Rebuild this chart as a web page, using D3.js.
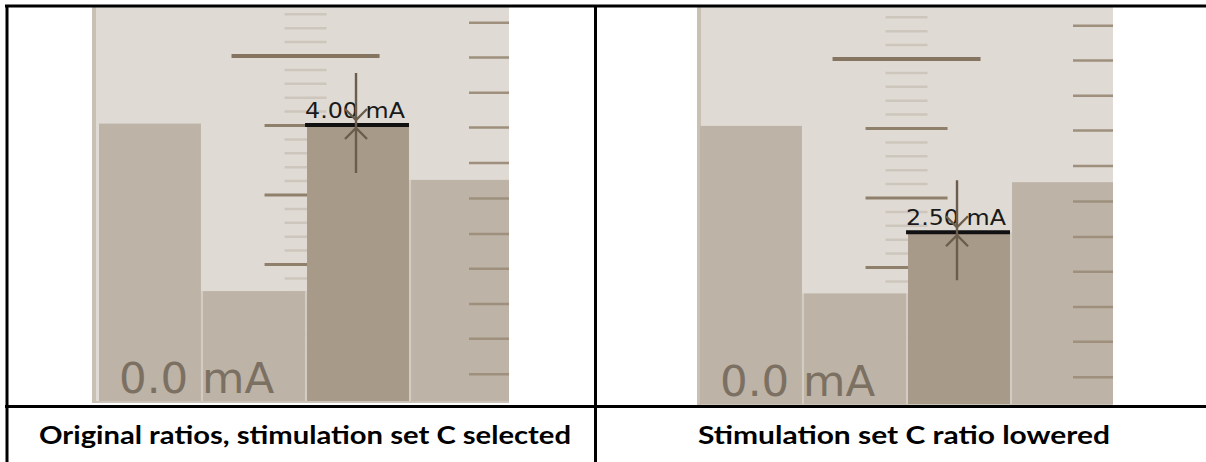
<!DOCTYPE html>
<html>
<head>
<meta charset="utf-8">
<script src="https://cdn.jsdelivr.net/npm/d3@7"></script>
<style>
  html, body { margin: 0; padding: 0; background: #ffffff; }
  svg { display: block; }
</style>
</head>
<body>
<svg id="chart" width="1206" height="462"></svg>
<script>
// ---- data ----
const categories = ['A', 'B', 'C', 'D'];
const originalValues = [4.02, 1.61, 4.00, 3.21];
const loweredValues = [4.03, 1.62, 2.50, 3.22];
const selectedCategory = 'C';
const selectedLabels = ['4.00 mA', '2.50 mA'];
const baseLabel = '0.0 mA';
const captions = ['Original ratios, stimulation set C selected', 'Stimulation set C ratio lowered'];
const minorTickValues = [0.2, 0.4, 0.6, 0.8, 1.2, 1.4, 1.6, 1.8, 2.2, 2.4, 2.6, 2.8,
                         3.2, 3.4, 3.6, 3.8, 4.2, 4.4, 4.6, 4.8, 5.2, 5.4, 5.6];
const mediumTickValues = [1, 2, 3, 4];
const majorTickValues = [5];
const sideTickValues = [0.42, 0.93, 1.43, 1.94, 2.44, 2.95, 3.46, 3.97, 4.47, 4.98, 5.48];

// ---- layout ----
const svg = d3.select('#chart');
const pxPerUnit = 69.5;
const yMax = 5.75;

const panels = [
  { id: 'p0', x0: 92, x1: 509, y0: 7, y1: 403, barStart: 99, values: originalValues,
    label: selectedLabels[0], caption: captions[0], capX0: 39, capW: 532 },
  { id: 'p1', x0: 697, x1: 1113, y0: 7, y1: 406, barStart: 700, values: loweredValues,
    label: selectedLabels[1], caption: captions[1], capX0: 698, capW: 412 }
];

const C = {
  bg: '#dfdad4', stripe: '#c9c0b4', bar: '#bdb3a6', barSel: '#a89a89', gap: '#d3ccc2',
  bottom: '#cbc3b7', minor: '#cdc6bc', medium: '#8f806c', major: '#857460', side: '#9e907c',
  arrow: '#6b5d4c', base: '#7b7061', label: '#1a1a1a'
};

const defs = svg.append('defs');

panels.forEach(p => {
  defs.append('clipPath').attr('id', 'clip-' + p.id)
    .append('rect').attr('x', p.x0).attr('y', p.y0).attr('width', p.x1 - p.x0).attr('height', p.y1 - p.y0);

  const g = svg.append('g').attr('clip-path', `url(#clip-${p.id})`);

  const x = d3.scaleBand().domain(categories)
    .range([p.barStart, p.barStart + 414]).paddingInner(0.02).paddingOuter(0);
  const y = d3.scaleLinear().domain([0, yMax]).range([p.y1, p.y1 - yMax * pxPerUnit]);

  // background
  g.append('rect').attr('x', p.x0).attr('y', p.y0).attr('width', p.x1 - p.x0).attr('height', p.y1 - p.y0)
    .attr('fill', C.bg);
  g.append('rect').attr('x', p.x0).attr('y', p.y0).attr('width', 4).attr('height', p.y1 - p.y0)
    .attr('fill', C.stripe);

  // centre scale (behind bars)
  const cx = x(selectedCategory) - 1.5;
  const centreAxis = (vals, len, col, w) => {
    const a = g.append('g').attr('transform', `translate(${cx - len / 2},0)`)
      .call(d3.axisRight(y).tickValues(vals).tickSize(len).tickFormat(''));
    a.select('.domain').remove();
    a.selectAll('line').attr('stroke', col).attr('stroke-width', w);
  };
  centreAxis(minorTickValues, 42, C.minor, 2.5);
  centreAxis(mediumTickValues, 82, C.medium, 3);
  centreAxis(majorTickValues, 148, C.major, 4);

  // gaps between bars
  const data = categories.map((c, i) => ({ c, v: p.values[i] }));
  for (let i = 1; i < data.length; i++) {
    const top = Math.max(y(data[i - 1].v), y(data[i].v));
    const gx = x(data[i].c) - x.step() * x.paddingInner();
    g.append('rect').attr('x', gx).attr('y', top).attr('width', x.step() * x.paddingInner())
      .attr('height', p.y1 - top).attr('fill', C.gap);
  }

  // bars
  g.selectAll('rect.bar').data(data).enter().append('rect').attr('class', 'bar')
    .attr('x', d => x(d.c)).attr('width', x.bandwidth())
    .attr('y', d => y(d.v)).attr('height', d => y(0) - y(d.v))
    .attr('fill', d => d.c === selectedCategory ? C.barSel : C.bar);

  // bottom strip
  g.append('rect').attr('x', p.x0 + 4).attr('y', p.y1 - 2).attr('width', p.x1 - p.x0).attr('height', 2)
    .attr('fill', C.bottom);

  // side scale (on top of bars)
  const side = g.append('g').attr('transform', `translate(${p.x1},0)`)
    .call(d3.axisLeft(y).tickValues(sideTickValues).tickSize(40).tickFormat(''));
  side.select('.domain').remove();
  side.selectAll('line').attr('stroke', C.side).attr('stroke-width', 2.5);

  // base label
  g.append('text').attr('x', x(categories[0]) + 20).attr('y', p.y1 - 10)
    .attr('font-family', 'DejaVu Sans').attr('font-size', 43.5).attr('fill', C.base)
    .text(baseLabel);

  // selected marker
  const selV = p.values[categories.indexOf(selectedCategory)];
  const top = y(selV);
  const bx = x(selectedCategory);
  g.append('rect').attr('x', bx - 2).attr('y', top - 2).attr('width', x.bandwidth() + 2)
    .attr('height', 4).attr('fill', '#111');
  g.append('text').attr('x', bx - 2).attr('y', top - 7)
    .attr('font-family', 'DejaVu Sans').attr('font-size', 21.5).attr('fill', C.label)
    .attr('textLength', 100).attr('lengthAdjust', 'spacingAndGlyphs')
    .text(p.label);
  const ax = bx + x.bandwidth() / 2 - 2;
  const ag = g.append('g').attr('stroke', C.arrow).attr('stroke-width', 2.4).attr('fill', 'none')
    .attr('stroke-linecap', 'butt');
  ag.append('line').attr('x1', ax).attr('x2', ax).attr('y1', top - 52).attr('y2', top + 48);
  ag.append('path').attr('d', `M${ax - 11},${top - 16} L${ax},${top - 5} L${ax + 11},${top - 16}`);
  ag.append('path').attr('d', `M${ax - 11},${top + 14} L${ax},${top + 3} L${ax + 11},${top + 14}`);

  // caption
  svg.append('text').attr('x', p.capX0).attr('y', 443.5)
    .attr('font-family', 'Lato').attr('font-weight', 'bold').attr('font-size', 24.5).attr('fill', '#000')
    .attr('textLength', p.capW).attr('lengthAdjust', 'spacingAndGlyphs')
    .text(p.caption);
});

// table borders
const border = svg.append('g').attr('stroke', '#000').attr('stroke-width', 3);
border.append('line').attr('x1', 5).attr('x2', 1206).attr('y1', 6).attr('y2', 6);
border.append('line').attr('x1', 7).attr('x2', 7).attr('y1', 5).attr('y2', 462);
border.append('line').attr('x1', 595.5).attr('x2', 595.5).attr('y1', 5).attr('y2', 462);
border.append('line').attr('x1', 5).attr('x2', 1206).attr('y1', 406.5).attr('y2', 406.5);
</script>
</body>
</html>
